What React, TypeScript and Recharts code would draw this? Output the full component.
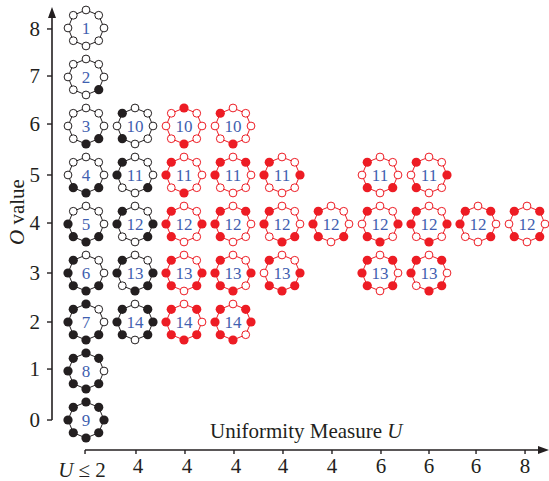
import {
  ScatterChart,
  Scatter,
  XAxis,
  YAxis,
  ReferenceLine,
  Label,
} from "recharts";

const FONT = '"Liberation Serif", "Times New Roman", serif';
const BLACK = "#231f20";
const RED = "#ed1c24";
const BLUE = "#3f5fb0";

// seats on a ring are counted clockwise from the top: 0 top, 2 right, 4 bottom, 6 left
const blackCols = [0, 0, 0, 0, 0, 0, 0, 0, 0, 1, 1, 1, 1, 1];
const blackO = [8, 7, 6, 5, 4, 3, 2, 1, 0, 6, 5, 4, 3, 2];
const blackIds = [1, 2, 3, 4, 5, 6, 7, 8, 9, 10, 11, 12, 13, 14];
const blackFilled = [
  [],
  [3],
  [3, 4],
  [3, 4, 5],
  [3, 4, 5, 6],
  [3, 4, 5, 6, 7],
  [0, 3, 4, 5, 6, 7],
  [0, 1, 3, 4, 5, 6, 7],
  [0, 1, 2, 3, 4, 5, 6, 7],
  [7, 5],
  [7, 6, 3],
  [7, 6, 2, 3],
  [7, 6, 2, 3, 4],
  [7, 1, 6, 2, 5, 3],
];

const redCols = [2, 3, 2, 3, 4, 6, 7, 2, 3, 4, 5, 6, 7, 8, 9, 2, 3, 4, 6, 7, 2, 3];
const redO = [6, 6, 5, 5, 5, 5, 5, 4, 4, 4, 4, 4, 4, 4, 4, 3, 3, 3, 3, 3, 2, 2];
const redIds = [10, 10, 11, 11, 11, 11, 11, 12, 12, 12, 12, 12, 12, 12, 12, 13, 13, 13, 13, 13, 14, 14];
const redFilled = [
  [0, 4],
  [7, 4],
  [7, 6, 4],
  [7, 1, 6],
  [7, 6, 2],
  [7, 5, 3],
  [7, 2, 5],
  [7, 6, 2, 5],
  [7, 1, 6, 5],
  [7, 6, 4, 3],
  [7, 6, 5, 3],
  [7, 2, 5, 4],
  [7, 6, 2, 4],
  [7, 1, 6, 3],
  [7, 1, 5, 3],
  [7, 6, 2, 5, 3],
  [7, 6, 2, 5, 4],
  [7, 2, 5, 4, 3],
  [7, 1, 6, 5, 3],
  [7, 1, 6, 4, 3],
  [7, 1, 6, 5, 4, 3],
  [7, 1, 6, 2, 5, 4],
];

const xTicks = [-0.02, 1.02, 2.02, 3.02, 4.02, 5.02, 6.02, 7.0, 7.96, 8.96];
const xTickLabels = ["U ≤ 2", "4", "4", "4", "4", "4", "6", "6", "6", "8"];
const yTicks = [0, 1.04, 2.0, 3.0, 4.02, 5.0, 6.04, 7.02, 7.98];

const blackRings = blackCols.map((col, i) => ({
  col,
  o: blackO[i],
  id: blackIds[i],
  filled: blackFilled[i],
}));
const redRings = redCols.map((col, i) => ({
  col,
  o: redO[i],
  id: redIds[i],
  filled: redFilled[i],
}));

function Ring({ cx, cy, payload, color }: any) {
  const r = 18;
  const seats = [0, 1, 2, 3, 4, 5, 6, 7].map((k) => ({
    k,
    x: cx + r * Math.sin((k * Math.PI) / 4),
    y: cy - r * Math.cos((k * Math.PI) / 4),
  }));
  return (
    <g>
      <polygon
        points={seats.map((s) => `${s.x},${s.y}`).join(" ")}
        fill="none"
        stroke={color}
        strokeWidth={1}
      />
      {seats.map((s) =>
        payload.filled.includes(s.k) ? (
          <circle key={s.k} cx={s.x} cy={s.y} r={4.6} fill={color} />
        ) : (
          <circle key={s.k} cx={s.x} cy={s.y} r={3.9} fill="#fff" stroke={color} strokeWidth={1} />
        )
      )}
      <text
        x={cx}
        y={cy + 6}
        textAnchor="middle"
        fontFamily={FONT}
        fontSize={17}
        fill={BLUE}
      >
        {payload.id}
      </text>
    </g>
  );
}

function XTick({ x, index }: any) {
  const label = xTickLabels[index];
  if (label.startsWith("U")) {
    return (
      <text x={x - 3} y={477} textAnchor="middle" fontFamily={FONT} fontSize={21} fill={BLACK}>
        <tspan fontStyle="italic">U</tspan> ≤ 2
      </text>
    );
  }
  return (
    <text
      x={index < 4 ? x + 2 : x}
      y={473}
      textAnchor="middle"
      fontFamily={FONT}
      fontSize={21}
      fill={BLACK}
    >
      {label}
    </text>
  );
}

function YTick({ x, y, payload }: any) {
  return (
    <text x={x} y={y + 7} textAnchor="end" fontFamily={FONT} fontSize={21} fill={BLACK}>
      {Math.round(payload.value)}
    </text>
  );
}

function XArrow({ x1, y1, x2, y2 }: any) {
  return (
    <g>
      <line x1={x1} y1={y1} x2={x2 - 6} y2={y2} stroke={BLACK} strokeWidth={1.6} />
      <polygon points={`${x2},${y2} ${x2 - 11},${y2 - 4} ${x2 - 11},${y2 + 4}`} fill={BLACK} />
    </g>
  );
}

function YArrow({ x1, y1, x2, y2 }: any) {
  return (
    <g>
      <line x1={x1} y1={y1} x2={x2} y2={y2 + 6} stroke={BLACK} strokeWidth={1.6} />
      <polygon points={`${x2},${y2} ${x2 - 4},${y2 + 11} ${x2 + 4},${y2 + 11}`} fill={BLACK} />
    </g>
  );
}

function OLabel() {
  return (
    <text
      transform="translate(24,212) rotate(-90)"
      textAnchor="middle"
      fontFamily={FONT}
      fontSize={21}
      fill={BLACK}
    >
      <tspan fontStyle="italic">O</tspan> value
    </text>
  );
}

function ULabel() {
  return (
    <text x={210} y={438} fontFamily={FONT} fontSize={21} fill={BLACK}>
      Uniformity Measure <tspan fontStyle="italic">U</tspan>
    </text>
  );
}

export default function App() {
  return (
    <div style={{ position: "absolute", left: 0, top: 0 }}>
      <ScatterChart
        width={549}
        height={481}
        margin={{ top: 5, right: 0, bottom: 0, left: 0 }}
      >
        <XAxis
          type="number"
          dataKey="col"
          domain={[-0.694, 9.449]}
          ticks={xTicks}
          interval={0}
          height={31}
          axisLine={false}
          tickSize={4}
          tickLine={{ stroke: BLACK, strokeWidth: 1.4 }}
          tick={<XTick />}
        >
          <Label content={<ULabel />} />
        </XAxis>
        <YAxis
          type="number"
          dataKey="o"
          domain={[-0.612, 8.469]}
          ticks={yTicks}
          interval={0}
          width={52}
          axisLine={false}
          tickSize={5}
          tickMargin={7}
          tickLine={{ stroke: BLACK, strokeWidth: 1.4 }}
          tick={<YTick />}
        >
          <Label content={<OLabel />} />
        </YAxis>
        <ReferenceLine
          segment={[
            { x: -0.02, y: -0.612 },
            { x: 9.449, y: -0.612 },
          ]}
          ifOverflow="visible"
          shape={<XArrow />}
        />
        <ReferenceLine
          segment={[
            { x: -0.694, y: 0 },
            { x: -0.694, y: 8.429 },
          ]}
          ifOverflow="visible"
          shape={<YArrow />}
        />
        <Scatter
          data={blackRings}
          isAnimationActive={false}
          shape={(props: any) => <Ring {...props} color={BLACK} />}
        />
        <Scatter
          data={redRings}
          isAnimationActive={false}
          shape={(props: any) => <Ring {...props} color={RED} />}
        />
      </ScatterChart>
    </div>
  );
}
